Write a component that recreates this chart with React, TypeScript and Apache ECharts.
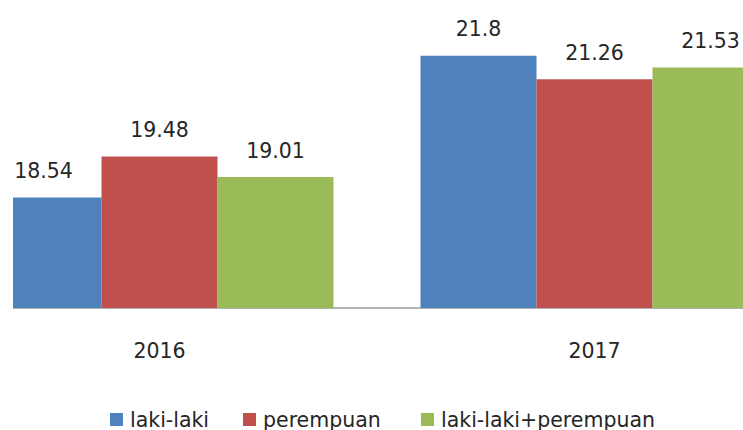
import React, { useEffect, useRef } from "react";
import * as echarts from "echarts";

const years = ["2016", "2017"];
const seriesNames = ["laki-laki", "perempuan", "laki-laki+perempuan"];
const lakiLaki = [18.54, 21.8];
const perempuan = [19.48, 21.26];
const total = [19.01, 21.53];
const colors = ["#4F81BD", "#C0504D", "#9BBB59"];

const FONT = "DejaVu Sans";
const TEXT = "#262626";

export default function App() {
  const ref = useRef<HTMLDivElement>(null);
  useEffect(() => {
    if (!ref.current) return;
    document.body.style.margin = "0";
    document.body.style.overflow = "hidden";
    const chart = echarts.init(ref.current, undefined, { renderer: "svg" });
    const values = [lakiLaki, perempuan, total];
    const offset = 58; // chart div starts at page x = -58
    const legendLeft = [110, 243, 421];
    chart.setOption({
      animation: false,
      grid: { left: 0, right: 0, top: 47, bottom: 122, containLabel: false },
      xAxis: {
        type: "category",
        data: years,
        axisLine: { show: true, lineStyle: { color: "#999999", width: 1.5 } },
        axisTick: { show: false },
        axisLabel: { fontFamily: FONT, fontSize: 20.5, color: TEXT, margin: 32 },
      },
      yAxis: {
        type: "value",
        min: 16,
        max: 22,
        show: false,
        splitLine: { show: false },
      },
      legend: seriesNames.map((n, i) => ({
        data: [n],
        left: legendLeft[i] + offset,
        top: 409,
        icon: "rect",
        itemWidth: 13,
        itemHeight: 13,
        padding: 0,
        textStyle: { fontFamily: FONT, fontSize: 20.5, color: TEXT, lineHeight: 20, padding: [0, 0, 0, 2] },
      })),
      series: seriesNames.map((n, i) => ({
        name: n,
        type: "bar",
        data: values[i],
        barGap: "0%",
        barCategoryGap: "20%",
        itemStyle: { color: colors[i] },
        label: {
          show: true,
          position: "top",
          distance: 16,
          fontFamily: FONT,
          fontSize: 20.5,
          color: TEXT,
        },
      })),
    });
    return () => chart.dispose();
  }, []);
  return (
    <div style={{ position: "fixed", left: 13, top: 0, width: 730, height: 430, overflow: "hidden", background: "#fff" }}>
      <div ref={ref} style={{ position: "absolute", left: -71, top: 0, width: 870, height: 430 }} />
    </div>
  );
}
